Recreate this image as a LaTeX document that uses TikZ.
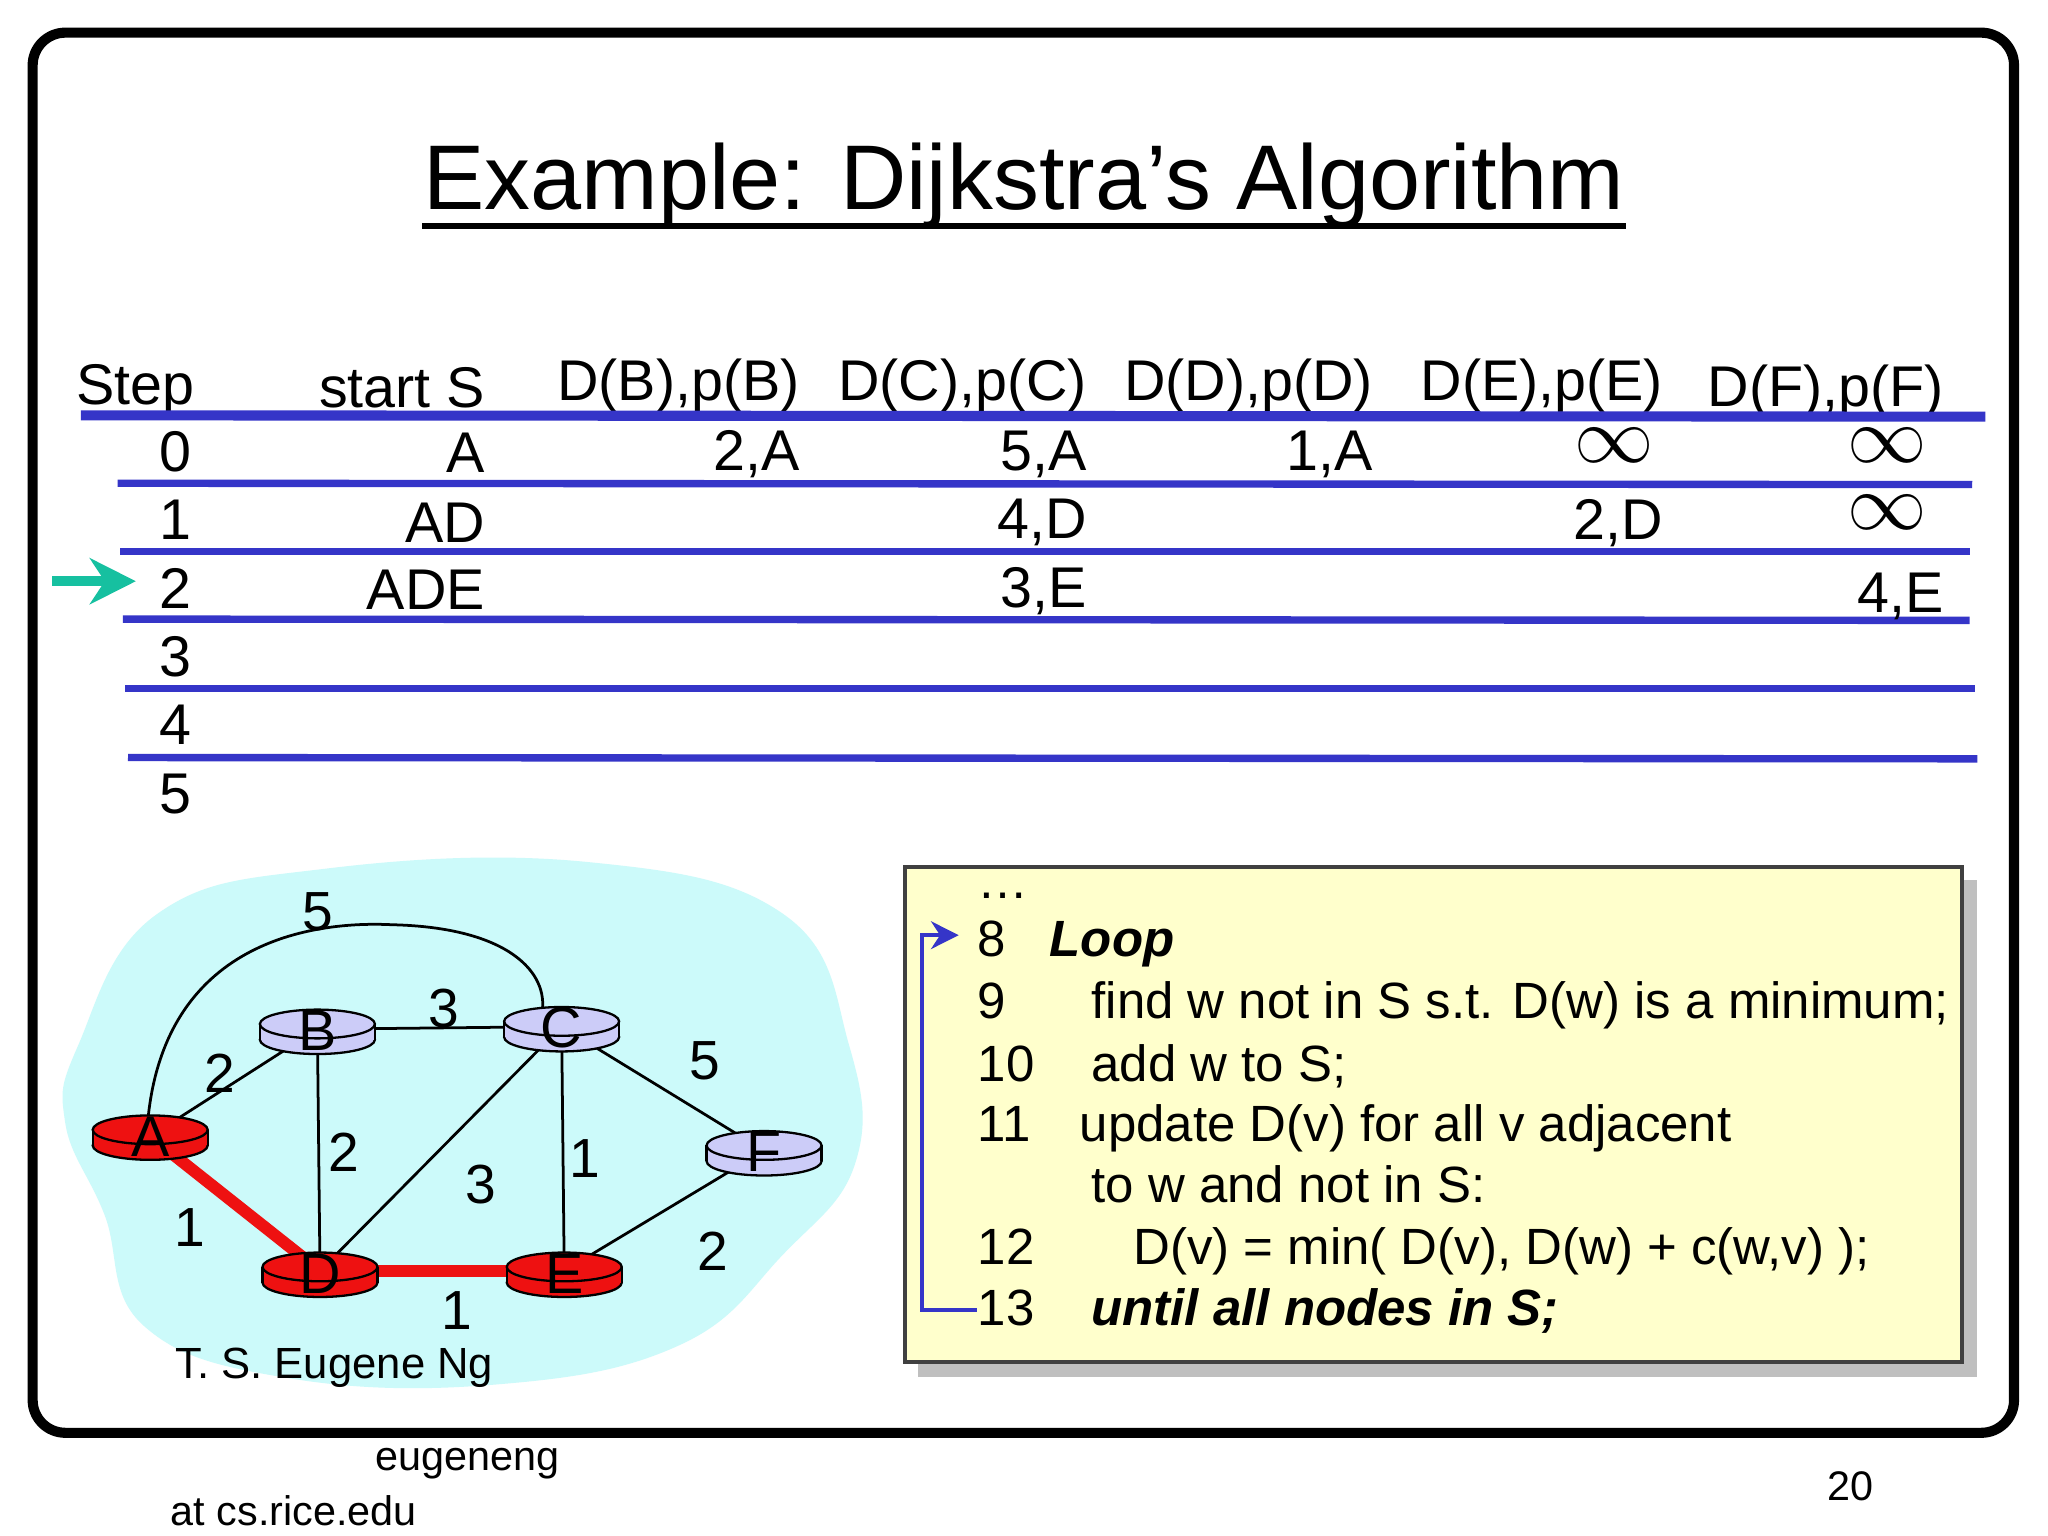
\documentclass[tikz,border=0pt]{standalone}
\usepackage{fontspec}
\setmainfont{Liberation Sans}
\usetikzlibrary{arrows.meta}
\definecolor{tblue}{HTML}{3535C8}
\definecolor{cloud}{HTML}{CCFAFA}
\definecolor{rred}{HTML}{EE1111}
\definecolor{rlav}{HTML}{CCCCF8}
\definecolor{codeyel}{HTML}{FFFFCC}
\definecolor{tgreen}{HTML}{16C0A0}
\tikzset{
  hdr/.style={font=\fontsize{12.5}{15}\selectfont, anchor=base east, inner sep=0pt},
  cell/.style={font=\fontsize{12.5}{15}\selectfont, anchor=base east, inner sep=0pt},
  inf/.style={font=\fontsize{17}{17}\selectfont},
  rowline/.style={tblue, line width=1.6pt},
  code/.style={font=\fontsize{11.1}{14}\selectfont, anchor=base west, inner sep=0pt},
  lbl/.style={font=\fontsize{12}{14}\selectfont},
  edge/.style={line width=0.6pt},
  redge/.style={rred, line width=2.6pt},
}
\newcommand{\myrouter}[5]{%
  \fill[#4,draw=black,line width=0.5pt] (#2,#3+12) ellipse [x radius=0.44cm, y radius=0.11cm];
  \fill[#4] (#2-44,#3) rectangle (#2+44,#3+12);
  \draw[line width=0.5pt] (#2-44,#3) -- (#2-44,#3+12) (#2+44,#3) -- (#2+44,#3+12);
  \fill[#4,draw=black,line width=0.5pt] (#2,#3) ellipse [x radius=0.44cm, y radius=0.11cm];
  \node[font=\fontsize{12.5}{14}\selectfont] (#1) at (#2,#3+5) {#5};
}
\begin{document}
\begin{tikzpicture}[x=0.01cm,y=-0.01cm]
\useasboundingbox (0,0) rectangle (1568,1176);
\fill[white] (0,0) rectangle (1568,1176);
\draw[line width=2.2pt, rounded corners=0.25cm] (25,25) rectangle (1542,1097);
% title
\node[font=\fontsize{20}{24}\selectfont, inner sep=0pt] (title) at (784,142) {Example: Dijkstra’s Algorithm};
\draw[line width=1.2pt] (title.west|-0,173) -- (title.east|-0,173);
% table header
\node[font=\fontsize{12.5}{15}\selectfont, anchor=base west, inner sep=0pt] (hs) at (58,310) {Step};
\node[hdr] (h1) at (372,312) {start S};
\node[hdr] (h2) at (613,307) {D(B),p(B)};
\node[hdr] (h3) at (833,307) {D(C),p(C)};
\node[hdr] (h4) at (1052,307) {D(D),p(D)};
\node[hdr] (h5) at (1274,307) {D(E),p(E)};
\node[hdr] (h6) at (1489,311) {D(F),p(F)};
\draw[tblue, line width=2.2pt] (62,318) -- (1520,319);
\draw[rowline] (90,370) -- (1510,371);
\draw[rowline] (92,422) -- (1508,422);
\draw[rowline] (94,474) -- (1508,475);
\draw[rowline] (96,527) -- (1512,527);
\draw[rowline] (98,580) -- (1514,581);
% step numbers
\foreach \n/\y in {0/361,1/413,2/466,3/518,4/570,5/623}
  \node[font=\fontsize{12.5}{15}\selectfont, anchor=base, inner sep=0pt] (s\n) at (134,\y) {\n};
\node[cell] (r0a) at (372,362) {A};
\node[cell] (r0b) at (613,360) {2,A};
\node[cell] (r0c) at (833,360) {5,A};
\node[cell] (r0d) at (1052,360) {1,A};
\node[inf] (r0e) at (1236,341) {$\infty$};
\node[inf] (r0f) at (1445,341) {$\infty$};
\node[cell] (r1a) at (372,415) {AD};
\node[cell] (r1c) at (833,412) {4,D};
\node[cell] (r1e) at (1274,413) {2,D};
\node[inf] (r1f) at (1445,392) {$\infty$};
\node[cell] (r2a) at (372,467) {ADE};
\node[cell] (r2c) at (833,465) {3,E};
\node[cell] (r2f) at (1489,469) {4,E};
\coordinate (ga) at (40,445);
\coordinate (gb) at (104,445);
\draw[tgreen, line width=2.2pt, -{Stealth[length=10pt,width=10pt]}] (ga) -- (gb);
% cloud
\fill[cloud] plot[smooth cycle, tension=0.7] coordinates {(60,800) (120,700) (250,665) (450,660) (600,700) (650,800) (655,890) (600,960) (520,1030) (380,1060) (220,1055) (110,1015) (80,930) (50,860)};
% graph edges
\coordinate (A) at (115,870); \coordinate (B) at (243,788); \coordinate (C) at (430,786);
\coordinate (F) at (585,881); \coordinate (D) at (245,973); \coordinate (E) at (432,973);
\draw[edge] (A) -- (B);
\draw[edge] (B) -- (C);
\draw[edge] (C) -- (F);
\draw[edge] (F) -- (E);
\draw[edge] (B) -- (D);
\draw[edge] (D) -- (C);
\draw[edge] (C) -- (E);
\draw[edge] (113,860) .. controls (125,720) and (240,705) .. (300,708) .. controls (390,710) and (420,745) .. (415,775);
\draw[redge] (A) -- (D);
\draw[redge] (D) -- (E);
\myrouter{nA}{115}{865}{rred}{A}
\myrouter{nB}{243}{784}{rlav}{B}
\myrouter{nC}{430}{782}{rlav}{C}
\myrouter{nF}{585}{877}{rlav}{F}
\myrouter{nD}{245}{970}{rred}{D}
\myrouter{nE}{432}{970}{rred}{E}
\node[lbl] (l1) at (243,698) {5};
\node[lbl] (l2) at (340,772) {3};
\node[lbl] (l3) at (168,822) {2};
\node[lbl] (l4) at (540,812) {5};
\node[lbl] (l5) at (263,882) {2};
\node[lbl] (l6) at (368,907) {3};
\node[lbl] (l7) at (448,887) {1};
\node[lbl] (l8) at (145,940) {1};
\node[lbl] (l9) at (546,958) {2};
\node[lbl] (l10) at (350,1003) {1};
\node[font=\fontsize{9.5}{12}\selectfont] (auth) at (256,1047) {T. S. Eugene Ng};
% code box
\fill[black!25] (703,674) rectangle (1514,1054);
\draw[fill=codeyel, draw=black!75, line width=0.8pt] (693,664) rectangle (1502,1043);
\node[code] (c0) at (748,688) {\dots};
\node[code] (c8n) at (748,732) {8};
\node[code] (c8) at (803,732) {\textbf{\textit{Loop}}};
\node[code] (c9n) at (748,780) {9};
\node[code] (c9) at (835,780) {find w not in S s.t. D(w) is a minimum;};
\node[code] (c10n) at (748,828) {10};
\node[code] (c10) at (835,828) {add w to S;};
\node[code] (c11n) at (748,874) {11};
\node[code] (c11) at (826,874) {update D(v) for all v adjacent};
\node[code] (c11b) at (835,921) {to w and not in S:};
\node[code] (c12n) at (748,968) {12};
\node[code] (c12) at (867,968) {D(v) = min( D(v), D(w) + c(w,v) );};
\node[code] (c13n) at (748,1015) {13};
\node[code] (c13) at (835,1015) {\textbf{\textit{until all nodes in S;}}};
\coordinate (bq1) at (748,1003);
\coordinate (bq2) at (734,716);
\draw[tblue, line width=1pt, -{Stealth[length=6pt,width=6pt]}] (bq1) -- (706,1003) -- (706,716) -- (bq2);
% footer
\node[font=\fontsize{9}{12}\selectfont] (f1) at (358,1121) {eugeneng};
\node[font=\fontsize{9}{12}\selectfont] (f2) at (225,1157) {at cs.rice.edu};
\node[font=\fontsize{9}{12}\selectfont] (f3) at (1417,1138) {20};
\end{tikzpicture}
\end{document}
